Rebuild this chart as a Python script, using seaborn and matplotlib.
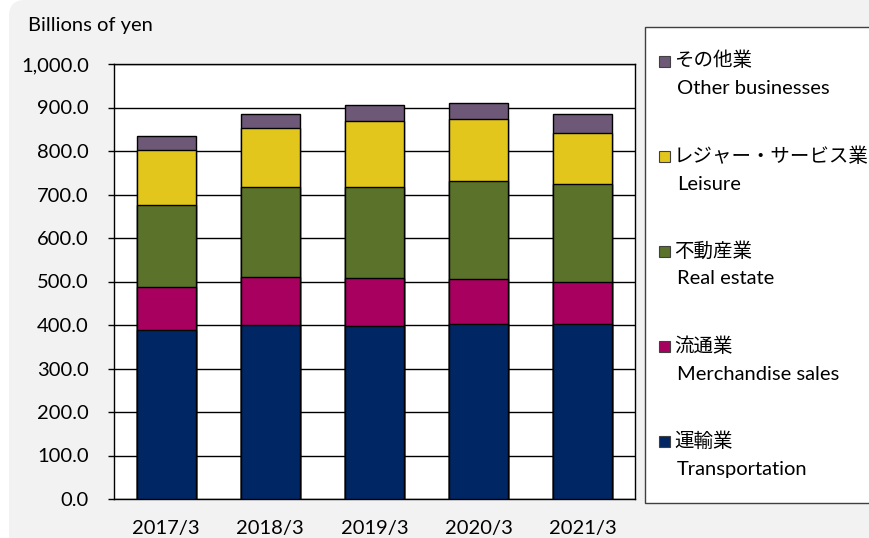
import matplotlib
matplotlib.use('Agg')
import matplotlib.pyplot as plt
import matplotlib.patches as mpatches
import matplotlib.transforms as mtrans
import seaborn as sns
import pandas as pd
import numpy as np

# Data (billions of yen)
years = ['2017/3', '2018/3', '2019/3', '2020/3', '2021/3']
transportation = [388, 401, 398, 402, 402]
merchandise = [99, 109, 109, 103, 98]
real_estate = [190, 207, 210, 225, 223]
leisure = [125, 135, 152, 143, 119]
other = [33, 32, 37, 38, 42]

seg_jp = ['運輸業', '流通業', '不動産業', 'レジャー・サービス業', 'その他業']
seg_en = ['Transportation', 'Merchandise sales', 'Real estate', 'Leisure', 'Other businesses']
colors = ['#002663', '#A8005E', '#5A7229', '#E2C61C', '#6E5878']

sns.set_theme(style='white')
plt.rcParams['font.family'] = ['Lato', 'Noto Sans CJK JP', 'DejaVu Sans']

df = pd.DataFrame({'year': years, 'Transportation': transportation,
                   'Merchandise sales': merchandise, 'Real estate': real_estate,
                   'Leisure': leisure, 'Other businesses': other})

fig = plt.figure(figsize=(8.7, 5.38), dpi=100, facecolor='white')

# gray rounded panel in pixel coords
px = mtrans.IdentityTransform()
panel = mpatches.FancyBboxPatch((9, -40), 900, 578, boxstyle='round,pad=0,rounding_size=16',
                                transform=px, facecolor='#f2f2f2', edgecolor='none', zorder=-10)
fig.patches.append(panel)

ax = fig.add_axes([114/870, 1-499/538, 521/870, 435/538])
ax.set_facecolor('white')

# stacked bars via seaborn cumulative draws (top layer first so lower layers paint over)
cum = df[seg_en].cumsum(axis=1)
for i in range(len(seg_en) - 1, -1, -1):
    sns.barplot(x=df['year'], y=cum[seg_en[i]], color=colors[i], width=0.566,
                edgecolor='black', linewidth=1.0, saturation=1, ax=ax, zorder=3)

ax.set_ylim(0, 1000)
ax.set_xlim(-0.5, 4.5)
ax.set_yticks(np.arange(0, 1001, 100))
ax.set_yticklabels([f'{v:,.1f}' for v in np.arange(0, 1001, 100)])
ax.yaxis.grid(True, color='black', linewidth=1.0, zorder=0)
ax.set_axisbelow(True)
ax.set_xlabel('')
ax.set_ylabel('')
for s in ax.spines.values():
    s.set_color('black')
    s.set_linewidth(1.0)
ax.tick_params(axis='y', left=True, length=4, width=1, color='black', pad=14, labelsize=14.5, labelcolor='black')
ax.tick_params(axis='x', bottom=False, pad=9, labelsize=14.5, labelcolor='black')

fig.text(28/870, 1-25/538, 'Billions of yen', fontsize=14.5, va='center', ha='left', color='black')

# legend panel
box = mpatches.Rectangle((645, 538-503), 260, 476, transform=px, facecolor='white',
                         edgecolor='#404040', linewidth=1.0, zorder=1)
fig.patches.append(box)
for k, i in enumerate(range(len(seg_en) - 1, -1, -1)):
    yc = 61 + k * 95
    sq = mpatches.Rectangle((659, 538-yc-5.5), 11, 11, transform=px, facecolor=colors[i],
                            edgecolor='#404040', linewidth=0.8, zorder=2)
    fig.patches.append(sq)
    fig.text(674/870, 1-yc/538, seg_jp[i], fontsize=14, va='center', ha='left', color='black',
             family=['Noto Sans CJK JP', 'DejaVu Sans'])
    fig.text(677/870, 1-(yc+28)/538, seg_en[i], fontsize=14.5, va='center', ha='left', color='black')

fig.savefig('out.png', dpi=100, facecolor=fig.get_facecolor())
